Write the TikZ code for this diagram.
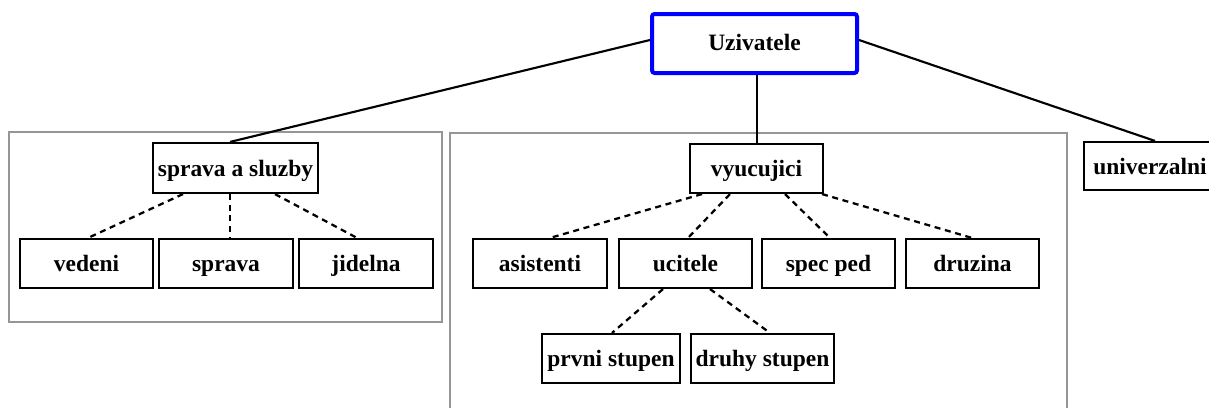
\documentclass[tikz,border=0pt]{standalone}
\usepackage{fontspec}
\setmainfont{Liberation Serif}
\usetikzlibrary{calc}
\definecolor{grpgray}{RGB}{150,150,150}
\definecolor{topblue}{RGB}{0,0,255}
\tikzset{
  box/.style={draw=black, line width=1.6pt, fill=white, inner sep=0pt,
    font=\fontsize{17.6}{20}\selectfont\bfseries, text=black,
    text height=14pt, text depth=2pt, minimum height=49*0.75pt},
  topbox/.style={box, draw=topblue, line width=3pt, rounded corners=2pt,
    text height=12.5pt, text depth=2.5pt},
  grp/.style={draw=grpgray, line width=1.5pt},
  solidlink/.style={draw=black, line width=1.6pt},
  dashlink/.style={draw=black, line width=1.7pt, dash pattern=on 4.5pt off 3.5pt}
}
\begin{document}
\begin{tikzpicture}[x=0.75pt, y=-0.75pt]
\useasboundingbox (0,0) rectangle (1209,407);
\clip (0,0) rectangle (1209,407);
% group frames
\draw[grp] (9,132) rectangle (442,322);
\draw[grp] (450,133) rectangle (1067,430);
% nodes
\node[topbox, minimum width=205*0.75pt, minimum height=59*0.75pt] (uz) at (754.5,43.5) {Uzivatele};
\node[box, minimum width=165*0.75pt, minimum height=50*0.75pt] (sas) at (235.5,168) {sprava a sluzby};
\node[box, minimum width=133*0.75pt] (ved) at (86.5,263.5) {vedeni};
\node[box, minimum width=134*0.75pt] (spr) at (226,263.5) {sprava};
\node[box, minimum width=134*0.75pt] (jid) at (366,263.5) {jidelna};
\node[box, minimum width=133*0.75pt] (vyu) at (756.5,168.5) {vyucujici};
\node[box, minimum width=134*0.75pt] (asi) at (540,263.5) {asistenti};
\node[box, minimum width=133*0.75pt] (uci) at (685.5,263.5) {ucitele};
\node[box, minimum width=133*0.75pt] (spe) at (828.5,263.5) {spec ped};
\node[box, minimum width=133*0.75pt] (dru) at (972.5,263.5) {druzina};
\node[box, minimum width=138*0.75pt] (prv) at (611,358.5) {prvni stupen};
\node[box, minimum width=143*0.75pt] (dst) at (762.5,358.5) {druhy stupen};
\node[box, minimum width=132*0.75pt, minimum height=48*0.75pt] (uni) at (1150,166) {univerzalni};
% solid links
\draw[solidlink] ($(uz.west)+(0,-3.5)$) -- ($(sas.north)+(-5.5,0)$);
\draw[solidlink] ($(uz.east)+(0,-3.5)$) -- ($(uni.north)+(5,0)$);
\draw[solidlink] ($(uz.south)+(2.5,0)$) -- ($(vyu.north)+(0.5,0)$);
% dashed links
\draw[dashlink] ($(sas.south)+(-52.5,0)$) -- ($(ved.north)+(1.5,0)$);
\draw[dashlink] ($(sas.south)+(-5.5,0)$) -- ($(spr.north)+(4,0)$);
\draw[dashlink] ($(sas.south)+(39.5,0)$) -- ($(jid.north)+(-9,0)$);
\draw[dashlink] ($(vyu.south)+(-54.5,0)$) -- ($(asi.north)+(10,0)$);
\draw[dashlink] ($(vyu.south)+(-26.5,0)$) -- ($(uci.north)+(2.5,0)$);
\draw[dashlink] ($(vyu.south)+(28.5,0)$) -- ($(spe.north)+(1.5,0)$);
\draw[dashlink] ($(vyu.south)+(65.5,0)$) -- ($(dru.north)+(-0.5,0)$);
\draw[dashlink] ($(uci.south)+(-22.5,0)$) -- ($(prv.north)+(1,0)$);
\draw[dashlink] ($(uci.south)+(24.5,0)$) -- ($(dst.north)+(7.5,0)$);
\end{tikzpicture}
\end{document}
